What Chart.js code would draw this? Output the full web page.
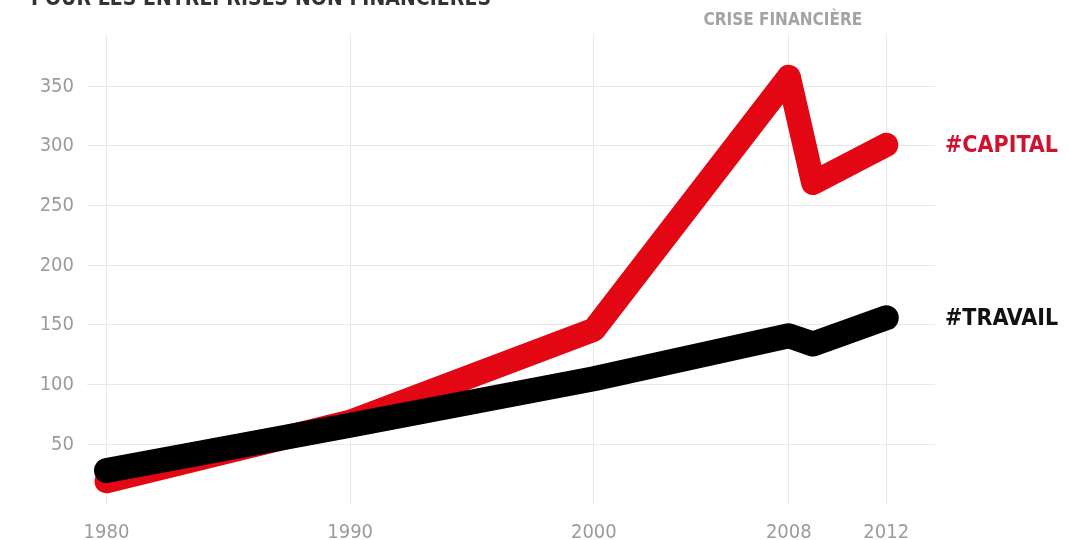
<!DOCTYPE html>
<html>
<head>
<meta charset="utf-8">
<script src="https://cdn.jsdelivr.net/npm/chart.js@4"></script>
<style>
  body { margin: 0; background: #fff; }
  #wrap { width: 1068px; height: 540px; position: relative; overflow: hidden; }
</style>
</head>
<body>
<div id="wrap"><canvas id="chart"></canvas></div>
<script>
const years = [1980, 1990, 2000, 2008, 2009, 2012];
const capital = [19, 69, 146, 358, 269, 301];
const travail = [28, 66, 105, 141, 134, 156];
const xTicks = [1980, 1990, 2000, 2008, 2012];
const yTicks = [50, 100, 150, 200, 250, 300, 350];

const title = 'POUR LES ENTREPRISES NON FINANCIÈRES';
const crisisLabel = 'CRISE FINANCIÈRE';
const crisisYear = 2008;

const RED = '#e30613';
const GREY = '#9b9b9b';
const TICK_FONT = { family: "'DejaVu Sans Condensed', 'DejaVu Sans', sans-serif", size: 20 };

const $ = (id) => document.getElementById(id);

function points(values) {
  return years.map((y, i) => ({ x: y, y: values[i] }));
}

// text that sits outside the plot: title, crisis note, series names
const annotations = {
  id: 'annotations',
  afterDatasetsDraw(chart) {
    const { ctx, chartArea, scales } = chart;
    ctx.save();

    ctx.font = "bold 21px 'DejaVu Sans Condensed', 'DejaVu Sans', sans-serif";
    ctx.fillStyle = '#333';
    ctx.textAlign = 'left';
    ctx.textBaseline = 'alphabetic';
    const w = ctx.measureText(title).width;
    const spacing = (460 - w) / (title.length - 1);
    if (spacing > 0) ctx.letterSpacing = spacing + 'px';
    ctx.fillText(title, 31, 5);
    ctx.letterSpacing = '0px';

    ctx.font = "bold 17px 'DejaVu Sans Condensed', 'DejaVu Sans', sans-serif";
    ctx.fillStyle = '#a3a3a3';
    ctx.textAlign = 'center';
    ctx.textBaseline = 'middle';
    ctx.fillText(crisisLabel, scales.x.getPixelForValue(crisisYear) - 6, 21);

    ctx.font = "bold 23px 'Liberation Sans Narrow', 'DejaVu Sans Condensed', sans-serif";
    ctx.textAlign = 'left';
    const last = years.length - 1;
    ctx.fillStyle = '#cf1230';
    ctx.fillText('#CAPITAL', chartArea.right + 10, scales.y.getPixelForValue(capital[last]) + 1);
    ctx.fillStyle = '#111';
    ctx.fillText('#TRAVAIL', chartArea.right + 10, scales.y.getPixelForValue(travail[last]) + 1);

    ctx.restore();
  }
};

new Chart($('chart').getContext('2d'), {
  type: 'line',
  data: {
    datasets: [
      {
        label: '#TRAVAIL',
        data: points(travail),
        borderColor: '#000',
        borderWidth: 25,
        borderCapStyle: 'round',
        borderJoinStyle: 'round',
        pointRadius: 0,
        tension: 0,
        order: 0
      },
      {
        label: '#CAPITAL',
        data: points(capital),
        borderColor: RED,
        borderWidth: 24,
        borderCapStyle: 'round',
        borderJoinStyle: 'round',
        pointRadius: 0,
        tension: 0,
        order: 1
      }
    ]
  },
  options: {
    responsive: true,
    maintainAspectRatio: false,
    animation: false,
    layout: { padding: { top: 35, right: 133, left: 0, bottom: 0 } },
    plugins: {
      legend: { display: false },
      tooltip: { enabled: false }
    },
    scales: {
      x: {
        type: 'linear',
        min: 1979.2,
        max: 2014,
        afterBuildTicks: (s) => { s.ticks = xTicks.map(v => ({ value: v })); },
        afterFit: (s) => { s.height = 36; },
        grid: { color: '#e8e8e8', drawTicks: false },
        border: { display: false },
        ticks: {
          color: GREY,
          font: TICK_FONT,
          padding: 17,
          maxRotation: 0,
          callback: (v) => String(v)
        }
      },
      y: {
        min: 0,
        max: 393,
        afterBuildTicks: (s) => { s.ticks = yTicks.map(v => ({ value: v })); },
        afterFit: (s) => { s.width = 87; },
        grid: { color: '#e8e8e8', drawTicks: false },
        border: { display: false },
        ticks: {
          color: GREY,
          font: TICK_FONT,
          padding: 13,
          callback: (v) => String(v)
        }
      }
    }
  },
  plugins: [annotations]
});
</script>
</body>
</html>
